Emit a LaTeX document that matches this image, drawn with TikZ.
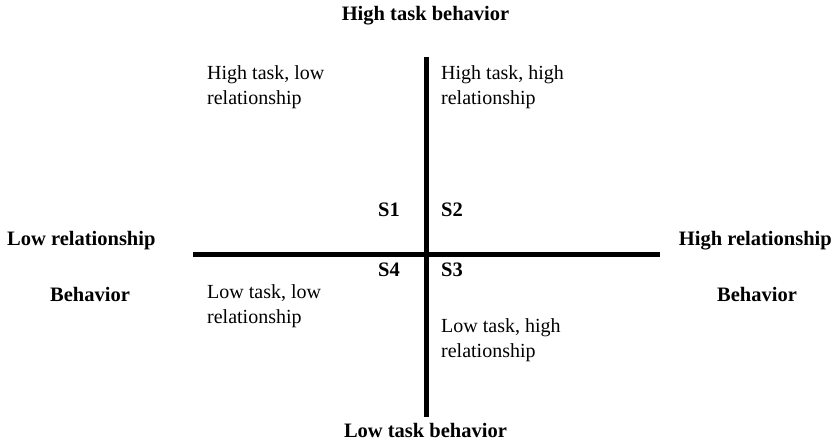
\documentclass[tikz,border=0pt]{standalone}
\usepackage{fontspec}
\setmainfont{Liberation Serif}
\begin{document}
\begin{tikzpicture}[x=1pt,y=-1pt,
  lbl/.style={font=\fontsize{20}{25}\selectfont, inner sep=0pt, align=left},
  blbl/.style={font=\fontsize{20.5}{25}\selectfont\bfseries, inner sep=0pt},
  axis/.style={line width=5pt}]
\useasboundingbox (0,0) rectangle (836,444);
% axes
\coordinate (vtop) at (426,57);
\coordinate (vbot) at (426,417);
\coordinate (hl) at (193,254);
\coordinate (hr) at (660,254);
\draw[axis] (vtop) -- (vbot);
\draw[axis] (hl) -- (hr);
% outer labels
\node[blbl, anchor=base] (top) at (425.5,21) {High task behavior};
\node[blbl, anchor=base] (bot) at (425.5,437) {Low task behavior};
\node[blbl, anchor=base west] (lr) at (7,245) {Low relationship};
\node[blbl, anchor=base] (lb) at (90,301) {Behavior};
\node[blbl, anchor=base east] (hr2) at (832,245) {High relationship};
\node[blbl, anchor=base] (rb) at (757,301) {Behavior};
% quadrant labels (base = baseline of last line)
\node[lbl, anchor=base west] (q1) at (207,105) {High task, low\\relationship};
\node[lbl, anchor=base west] (q2) at (441,105) {High task, high\\relationship};
\node[lbl, anchor=base west] (q4) at (207,323) {Low task, low\\relationship};
\node[lbl, anchor=base west] (q3) at (441,357) {Low task, high\\relationship};
% S labels
\node[blbl, anchor=base west] (s1) at (378,216) {S1};
\node[blbl, anchor=base west] (s2) at (441,216) {S2};
\node[blbl, anchor=base west] (s4) at (378,276) {S4};
\node[blbl, anchor=base west] (s3) at (441,276) {S3};
\end{tikzpicture}
\end{document}
